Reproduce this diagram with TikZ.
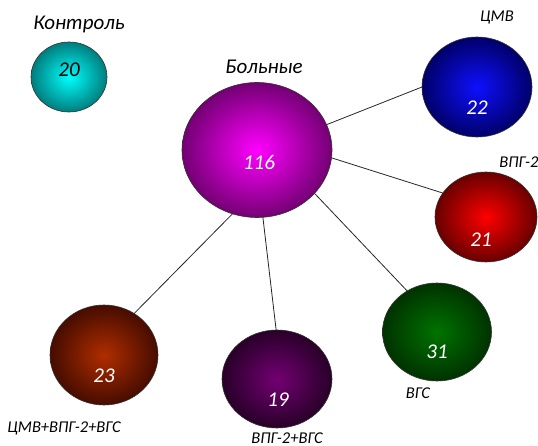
\documentclass[tikz,border=0pt]{standalone}
\usepackage{fontspec}
\setmainfont{Carlito}
\usetikzlibrary{shapes.geometric}
\definecolor{cyanIn}{RGB}{0,255,255}\definecolor{cyanOut}{RGB}{0,125,125}
\definecolor{magIn}{RGB}{255,0,255}\definecolor{magOut}{RGB}{115,0,115}
\definecolor{bluIn}{RGB}{15,15,255}\definecolor{bluOut}{RGB}{0,0,105}
\definecolor{redIn}{RGB}{255,0,0}\definecolor{redOut}{RGB}{105,0,0}
\definecolor{grnIn}{RGB}{0,115,0}\definecolor{grnOut}{RGB}{0,50,0}
\definecolor{purIn}{RGB}{115,0,115}\definecolor{purOut}{RGB}{40,0,40}
\definecolor{brnIn}{RGB}{175,45,0}\definecolor{brnOut}{RGB}{70,12,0}
\begin{document}
\begin{tikzpicture}[x=1pt,y=-1pt,
  ballnode/.style={ellipse,draw=black!80,line width=0.6pt,inner sep=0pt,outer sep=0pt,shading=radial},
  numw/.style={font=\itshape\fontsize{21}{21}\selectfont,text=white,inner sep=0pt},
  numb/.style={font=\itshape\fontsize{21}{21}\selectfont,text=black,inner sep=0pt},
  biglab/.style={font=\itshape\fontsize{21}{21}\selectfont,inner sep=0pt},
  smalllab/.style={font=\itshape\fontsize{16.5}{16.5}\selectfont,inner sep=0pt},
  conn/.style={draw=black!85,line width=0.8pt}]
\useasboundingbox (0,0) rectangle (538,446);
% balls
\node[ballnode,minimum width=76pt,minimum height=70pt,inner color=cyanIn,outer color=cyanOut] (c20) at (69,77) {};
\node[ballnode,minimum width=150pt,minimum height=135pt,inner color=magIn,outer color=magOut] (b) at (257,150) {};
\node[ballnode,minimum width=110pt,minimum height=100pt,inner color=bluIn,outer color=bluOut] (c22) at (477,87) {};
\node[ballnode,minimum width=102pt,minimum height=90pt,inner color=redIn,outer color=redOut] (c21) at (486,217) {};
\node[ballnode,minimum width=109pt,minimum height=98pt,inner color=grnIn,outer color=grnOut] (c31) at (437,332) {};
\node[ballnode,minimum width=110pt,minimum height=98pt,inner color=purIn,outer color=purOut] (c19) at (277,379) {};
\node[ballnode,minimum width=108pt,minimum height=100pt,inner color=brnIn,outer color=brnOut] (c23) at (104,355) {};
% numbers
\node[numb] (n20) at (69,70) {20};
\node[numw] (n116) at (259,162) {116};
\node[numw] (n22) at (477,108) {22};
\node[numw] (n21) at (481,240) {21};
\node[numw] (n31) at (437,352) {31};
\node[numw] (n19) at (278,400) {19};
\node[numw] (n23) at (104,376) {23};
% labels
\node[biglab] (lk) at (79,24) {Контроль};
\node[biglab] (lb) at (264,67) {Больные};
\node[smalllab] (l22) at (497,17) {ЦМВ};
\node[smalllab] (l21) at (519,162) {ВПГ-2};
\node[smalllab] (l31) at (418,393) {ВГС};
\node[smalllab] (l19) at (287,438) {ВПГ-2+ВГС};
\node[smalllab] (l23) at (64,428) {ЦМВ+ВПГ-2+ВГС};
% connectors
\draw[conn] (b.20.6) -- (c22.180);
\draw[conn] (b.-6.8) -- (c21.151);
\draw[conn] (b.-37.5) -- (c31.126);
\draw[conn] (b.-85) -- (c19.91);
\draw[conn] (b.-111) -- (c23.54);
\end{tikzpicture}
\end{document}
